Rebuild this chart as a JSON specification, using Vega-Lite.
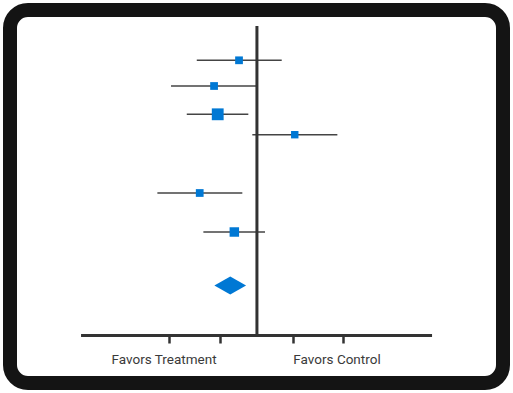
{
  "$schema": "https://vega.github.io/schema/vega-lite/v6.json",
  "width": 493,
  "height": 373,
  "autosize": "none",
  "padding": {"left": 10, "top": 10, "right": 10, "bottom": 10},
  "background": "white",
  "config": {
    "view": {"fill": "white", "stroke": "#141414", "strokeWidth": 14, "cornerRadius": 18},
    "axis": {"grid": false}
  },
  "datasets": {
    "studies": [
      {"study": "Study 1", "est": -0.206, "lo": -0.692, "hi": 0.285, "pos": 5.03, "weight": 6},
      {"study": "Study 2", "est": -0.493, "lo": -0.988, "hi": -0.01, "pos": 7.6, "weight": 6},
      {"study": "Study 3", "est": -0.451, "lo": -0.807, "hi": -0.099, "pos": 10.43, "weight": 14},
      {"study": "Study 4", "est": 0.435, "lo": -0.053, "hi": 0.925, "pos": 12.47, "weight": 5.5},
      {"study": "Study 5", "est": -0.658, "lo": -1.145, "hi": -0.168, "pos": 18.3, "weight": 6},
      {"study": "Study 6", "est": -0.26, "lo": -0.616, "hi": 0.093, "pos": 22.2, "weight": 9}
    ],
    "pooled": [{"est": -0.307, "pos": 27.55}],
    "nullline": [{"x": 0, "y": 1.6, "y2": 32.55}],
    "axisline": [{"x": -2.023, "x2": 2.014, "y": 32.55}],
    "labels": [
      {"label": "Favors Treatment", "x": -1.068, "y": 35.4},
      {"label": "Favors Control", "x": 0.921, "y": 35.4}
    ]
  },
  "layer": [
    {
      "data": {"name": "axisline"},
      "mark": {"type": "rule", "color": "#333333", "strokeWidth": 3},
      "encoding": {
        "x": {"field": "x", "type": "quantitative", "scale": {"domain": [-2.84, 2.83], "nice": false, "zero": false},
          "axis": {"orient": "bottom", "offset": -48, "domain": false, "labels": false, "title": null, "values": [-1.01, -0.42, 0.41, 0.99], "tickSize": 8, "tickWidth": 2.5, "tickColor": "#333333", "grid": false}},
        "x2": {"field": "x2"},
        "y": {"field": "y", "type": "quantitative", "scale": {"domain": [0, 37.3], "reverse": true, "nice": false, "zero": false}, "axis": null}
      }
    },
    {
      "data": {"name": "studies"},
      "mark": {"type": "rule", "color": "#444444", "strokeWidth": 1.6},
      "encoding": {
        "x": {"field": "lo", "type": "quantitative"},
        "x2": {"field": "hi"},
        "y": {"field": "pos", "type": "quantitative"}
      }
    },
    {
      "data": {"name": "nullline"},
      "mark": {"type": "rule", "color": "#333333", "strokeWidth": 3},
      "encoding": {
        "x": {"field": "x", "type": "quantitative"},
        "y": {"field": "y", "type": "quantitative"},
        "y2": {"field": "y2"}
      }
    },
    {
      "data": {"name": "studies"},
      "mark": {"type": "square", "filled": true, "color": "#0078d4", "opacity": 1},
      "encoding": {
        "x": {"field": "est", "type": "quantitative"},
        "y": {"field": "pos", "type": "quantitative"},
        "size": {"field": "weight", "type": "quantitative", "scale": {"type": "linear", "domain": [0, 20], "range": [0, 200], "zero": true}, "legend": null}
      }
    },
    {
      "data": {"name": "pooled"},
      "mark": {"type": "point", "filled": true, "color": "#0078d4", "opacity": 1, "shape": "M-1,0L0,-0.56L1,0L0,0.56Z", "size": 1005},
      "encoding": {
        "x": {"field": "est", "type": "quantitative"},
        "y": {"field": "pos", "type": "quantitative"}
      }
    },
    {
      "data": {"name": "labels"},
      "mark": {"type": "text", "font": "Roboto", "fontSize": 13.5, "color": "#3a3a3a", "align": "center", "baseline": "alphabetic"},
      "encoding": {
        "x": {"field": "x", "type": "quantitative"},
        "y": {"field": "y", "type": "quantitative"},
        "text": {"field": "label"}
      }
    }
  ]
}
